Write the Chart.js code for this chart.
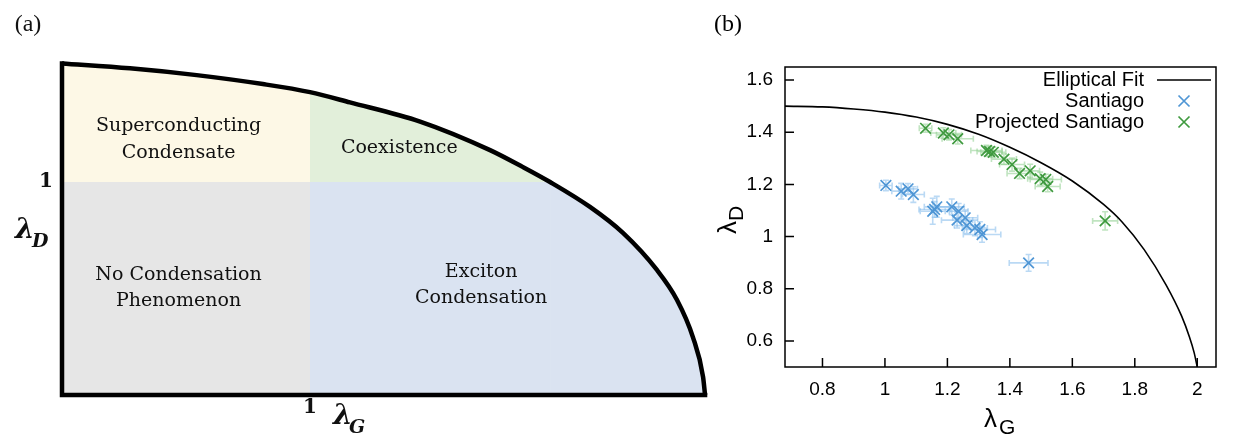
<!DOCTYPE html>
<html>
<head>
<meta charset="utf-8">
<script src="https://cdn.jsdelivr.net/npm/chart.js@4.4.1/dist/chart.umd.min.js"></script>
<style>
  body { margin: 0; background: #fff; }
  #wrap { position: relative; width: 1238px; height: 436px; }
  canvas { position: absolute; top: 0; }
  #phase { left: 0; }
  #fit { left: 700px; }
</style>
</head>
<body>
<div id="wrap">
  <canvas id="phase" width="720" height="436"></canvas>
  <canvas id="fit" width="538" height="436"></canvas>
</div>
<script>
// (a) 相図の境界 (lambda_G, lambda_D)
const boundaryG = [0, 0.274, 0.543, 0.81, 1.0, 1.161, 1.444, 1.726, 1.859, 1.968, 2.129, 2.262, 2.399, 2.48, 2.544, 2.585, 2.593]
const boundaryD = [1.557, 1.534, 1.502, 1.46, 1.422, 1.374, 1.284, 1.15, 1.07, 1.0, 0.883, 0.761, 0.587, 0.446, 0.272, 0.085, 0]
const regionNames = [['Superconducting', 'Condensate'], ['Coexistence'], ['No Condensation', 'Phenomenon'], ['Exciton', 'Condensation']]

// (b) 楕円フィット
const fitG = [0.68, 0.8, 0.9, 1.0, 1.1, 1.2, 1.3, 1.4, 1.5, 1.6, 1.7, 1.76, 1.83, 1.9, 1.95, 1.975, 1.99, 2.0]
const fitD = [1.5, 1.497, 1.489, 1.477, 1.458, 1.43, 1.392, 1.342, 1.283, 1.213, 1.123, 1.055, 0.95, 0.815, 0.695, 0.615, 0.555, 0.5]

// Santiago
const santiagoG = [1.003, 1.052, 1.074, 1.091, 1.153, 1.166, 1.159, 1.214, 1.236, 1.231, 1.257, 1.262, 1.288, 1.304, 1.311, 1.46]
const santiagoD = [1.196, 1.174, 1.183, 1.161, 1.097, 1.114, 1.104, 1.114, 1.097, 1.063, 1.072, 1.042, 1.033, 1.027, 1.008, 0.899]
const santiagoGErr = [0.02, 0.03, 0.03, 0.035, 0.04, 0.04, 0.05, 0.04, 0.03, 0.05, 0.04, 0.04, 0.04, 0.05, 0.06, 0.062]
const santiagoDErr = [0.02, 0.03, 0.02, 0.03, 0.05, 0.04, 0.03, 0.03, 0.03, 0.03, 0.03, 0.03, 0.03, 0.03, 0.03, 0.032]

// Projected Santiago
const projG = [1.13, 1.187, 1.205, 1.233, 1.325, 1.335, 1.347, 1.381, 1.407, 1.431, 1.465, 1.497, 1.515, 1.521, 1.705]
const projD = [1.415, 1.397, 1.39, 1.375, 1.33, 1.326, 1.323, 1.297, 1.276, 1.242, 1.252, 1.222, 1.219, 1.192, 1.06]
const projGErr = [0.02, 0.04, 0.04, 0.05, 0.05, 0.04, 0.04, 0.04, 0.04, 0.04, 0.03, 0.04, 0.05, 0.04, 0.04]
const projDErr = [0.015, 0.02, 0.02, 0.02, 0.02, 0.02, 0.02, 0.02, 0.025, 0.02, 0.025, 0.025, 0.02, 0.02, 0.035]

const legendNames = ['Elliptical Fit', 'Santiago', 'Projected Santiago']

const pts = (xs, ys) => xs.map((x, i) => ({ x: x, y: ys[i] }))
const serif = "'DejaVu Serif', 'Liberation Serif', serif"
const sans = "'Liberation Sans', Arial, sans-serif"
const blue = '#4f96d5'
const green = '#3f9a3f'

// ---------- (a) ----------
const boundary = pts(boundaryG, boundaryD)
const upperLeft = boundary.filter((p) => p.x <= 1)
const upperMid = boundary.filter((p) => p.x >= 1 && p.y >= 1)
const lowerCurve = boundary.filter((p) => p.y <= 1)

const area = (data, color, fill, mono) => ({
  data: data,
  backgroundColor: color,
  borderWidth: 0,
  fill: fill,
  pointRadius: 0,
  cubicInterpolationMode: mono ? 'monotone' : 'default',
  clip: false,
})

const phaseText = {
  id: 'phaseText',
  afterDraw(chart) {
    const ctx = chart.ctx
    const x = chart.scales.x
    const y = chart.scales.y
    ctx.save()
    ctx.fillStyle = '#111'
    ctx.textAlign = 'center'
    ctx.textBaseline = 'middle'
    ctx.font = '19px ' + serif
    // ラベルの位置 (データ座標)
    const spots = [[0.47, [1.265, 1.135]], [1.36, [1.16]], [0.47, [0.565, 0.44]], [1.69, [0.578, 0.455]]]
    regionNames.forEach((lines, i) => {
      lines.forEach((t, j) => {
        ctx.fillText(t, x.getPixelForValue(spots[i][0]), y.getPixelForValue(spots[i][1][j]))
      })
    })
    ctx.font = 'bold 20px ' + serif
    ctx.textAlign = 'right'
    ctx.fillText('1', x.getPixelForValue(0) - 9, y.getPixelForValue(1))
    ctx.textAlign = 'center'
    ctx.fillText('1', x.getPixelForValue(1), y.getPixelForValue(0) + 13)
    // lambda
    ctx.textAlign = 'left'
    ctx.textBaseline = 'alphabetic'
    ctx.font = 'bold italic 28px ' + serif
    ctx.fillText('λ', 15, 238)
    ctx.fillText('λ', 333, 424)
    ctx.font = 'bold italic 19px ' + serif
    ctx.fillText('D', 32, 247)
    ctx.fillText('G', 349, 433)
    ctx.font = "24px 'Liberation Serif', serif"
    ctx.textAlign = 'center'
    ctx.textBaseline = 'middle'
    ctx.fillText('(a)', 28, 25)
    ctx.restore()
  },
}

new Chart(document.getElementById('phase'), {
  type: 'line',
  data: {
    datasets: [
      // 先頭のデータセットが一番上に描かれる
      {
        data: boundary,
        borderColor: '#000',
        borderWidth: 4.5,
        pointRadius: 0,
        fill: false,
        cubicInterpolationMode: 'monotone',
        clip: false,
      },
      {
        data: [{ x: 2.593, y: 0 }, { x: 0, y: 0 }, { x: 0, y: 1.557 }],
        borderColor: '#000',
        borderWidth: 4.5,
        borderJoinStyle: 'miter',
        borderCapStyle: 'square',
        pointRadius: 0,
        fill: false,
        tension: 0,
        clip: false,
      },
      area(upperMid, '#e2efda', { value: 1 }, true),
      area(upperLeft, '#fdf8e6', { value: 1 }, true),
      area(lowerCurve, '#dae3f1', 'origin', true),
      area([{ x: 1, y: 1 }, { x: 1.968, y: 1 }], '#dae3f1', 'origin', false),
      area([{ x: 0, y: 1 }, { x: 1, y: 1 }], '#e6e6e6', 'origin', false),
    ],
  },
  options: {
    responsive: false,
    animation: false,
    layout: { padding: { left: 62, right: 10, top: 60, bottom: 41 } },
    plugins: { legend: { display: false }, tooltip: { enabled: false } },
    scales: {
      x: { type: 'linear', min: 0, max: 2.613, display: false },
      y: { type: 'linear', min: 0, max: 1.573, display: false },
    },
  },
  plugins: [phaseText],
})

// ---------- (b) ----------
const errorBars = {
  id: 'errorBars',
  beforeDatasetsDraw(chart) {
    const ctx = chart.ctx
    const x = chart.scales.x
    const y = chart.scales.y
    ctx.save()
    chart.data.datasets.forEach((ds) => {
      if (!ds.errG) return
      ctx.strokeStyle = ds.errColor
      ctx.lineWidth = 1.6
      ds.data.forEach((p, i) => {
        const px = x.getPixelForValue(p.x)
        const py = y.getPixelForValue(p.y)
        const x0 = x.getPixelForValue(p.x - ds.errG[i])
        const x1 = x.getPixelForValue(p.x + ds.errG[i])
        const y0 = y.getPixelForValue(p.y - ds.errD[i])
        const y1 = y.getPixelForValue(p.y + ds.errD[i])
        ctx.beginPath()
        ctx.moveTo(x0, py); ctx.lineTo(x1, py)
        ctx.moveTo(x0, py - 3); ctx.lineTo(x0, py + 3)
        ctx.moveTo(x1, py - 3); ctx.lineTo(x1, py + 3)
        ctx.moveTo(px, y0); ctx.lineTo(px, y1)
        ctx.moveTo(px - 3, y0); ctx.lineTo(px + 3, y0)
        ctx.moveTo(px - 3, y1); ctx.lineTo(px + 3, y1)
        ctx.stroke()
      })
    })
    ctx.restore()
  },
}

const cross = (ctx, cx, cy, r, color) => {
  ctx.strokeStyle = color
  ctx.lineWidth = 1.7
  ctx.beginPath()
  ctx.moveTo(cx - r, cy - r); ctx.lineTo(cx + r, cy + r)
  ctx.moveTo(cx - r, cy + r); ctx.lineTo(cx + r, cy - r)
  ctx.stroke()
}

const fitDecor = {
  id: 'fitDecor',
  afterDraw(chart) {
    const ctx = chart.ctx
    const a = chart.chartArea
    const x = chart.scales.x
    const y = chart.scales.y
    ctx.save()
    ctx.strokeStyle = '#000'
    ctx.lineWidth = 1.5
    ctx.strokeRect(a.left, a.top, a.right - a.left, a.bottom - a.top)
    // 内向きの目盛り
    ctx.beginPath()
    x.ticks.forEach((t) => {
      const px = x.getPixelForValue(t.value)
      ctx.moveTo(px, a.bottom); ctx.lineTo(px, a.bottom - 9)
    })
    y.ticks.forEach((t) => {
      const py = y.getPixelForValue(t.value)
      ctx.moveTo(a.left, py); ctx.lineTo(a.left + 9, py)
    })
    ctx.stroke()
    // 凡例
    ctx.fillStyle = '#000'
    ctx.font = '20px ' + sans
    ctx.textAlign = 'right'
    ctx.textBaseline = 'middle'
    const rows = [80, 101, 122]
    legendNames.forEach((t, i) => ctx.fillText(t, 444, rows[i]))
    ctx.beginPath()
    ctx.moveTo(457, rows[0]); ctx.lineTo(511, rows[0])
    ctx.stroke()
    cross(ctx, 484, rows[1], 5.5, blue)
    cross(ctx, 484, rows[2], 5.5, green)
    // 軸タイトル
    ctx.fillStyle = '#000'
    ctx.textAlign = 'left'
    ctx.textBaseline = 'alphabetic'
    ctx.font = '26px ' + sans
    ctx.fillText('λ', 284, 427)
    ctx.font = '21px ' + sans
    ctx.fillText('G', 299, 434)
    ctx.save()
    ctx.translate(36, 234)
    ctx.rotate(-Math.PI / 2)
    ctx.font = '26px ' + sans
    ctx.fillText('λ', 0, 0)
    const w = ctx.measureText('λ').width
    ctx.font = '21px ' + sans
    ctx.fillText('D', w, 7)
    ctx.restore()
    ctx.font = "24px 'Liberation Serif', serif"
    ctx.textAlign = 'center'
    ctx.textBaseline = 'middle'
    ctx.fillText('(b)', 28, 25)
    ctx.restore()
  },
}

const tickFmt = (v) => String(Math.round(v * 10) / 10)

new Chart(document.getElementById('fit'), {
  type: 'scatter',
  data: {
    datasets: [
      {
        label: legendNames[0],
        data: pts(fitG, fitD),
        showLine: true,
        borderColor: '#000',
        borderWidth: 1.6,
        pointRadius: 0,
        cubicInterpolationMode: 'monotone',
      },
      {
        label: legendNames[2],
        data: pts(projG, projD),
        pointStyle: 'crossRot',
        pointRadius: 7.5,
        borderColor: green,
        backgroundColor: green,
        borderWidth: 1.7,
        errG: projGErr,
        errD: projDErr,
        errColor: 'rgba(140, 205, 140, 0.55)',
      },
      {
        label: legendNames[1],
        data: pts(santiagoG, santiagoD),
        pointStyle: 'crossRot',
        pointRadius: 7.5,
        borderColor: blue,
        backgroundColor: blue,
        borderWidth: 1.7,
        errG: santiagoGErr,
        errD: santiagoDErr,
        errColor: 'rgba(130, 185, 235, 0.55)',
      },
    ],
  },
  options: {
    responsive: false,
    animation: false,
    layout: { padding: { left: 0, right: 22, top: 67, bottom: 0 } },
    plugins: { legend: { display: false }, tooltip: { enabled: false } },
    scales: {
      x: {
        type: 'linear',
        min: 0.68,
        max: 2.06,
        ticks: { stepSize: 0.2, includeBounds: false, color: '#000', padding: 11, font: { family: sans, size: 19 }, callback: tickFmt },
        grid: { display: false, drawTicks: false },
        border: { display: false },
        afterFit: (s) => { s.height = 69 },
      },
      y: {
        type: 'linear',
        min: 0.5,
        max: 1.65,
        ticks: { stepSize: 0.2, includeBounds: false, color: '#000', padding: 12, font: { family: sans, size: 19 }, callback: tickFmt },
        grid: { display: false, drawTicks: false },
        border: { display: false },
        afterFit: (s) => { s.width = 85 },
      },
    },
  },
  plugins: [errorBars, fitDecor],
})
</script>
</body>
</html>
